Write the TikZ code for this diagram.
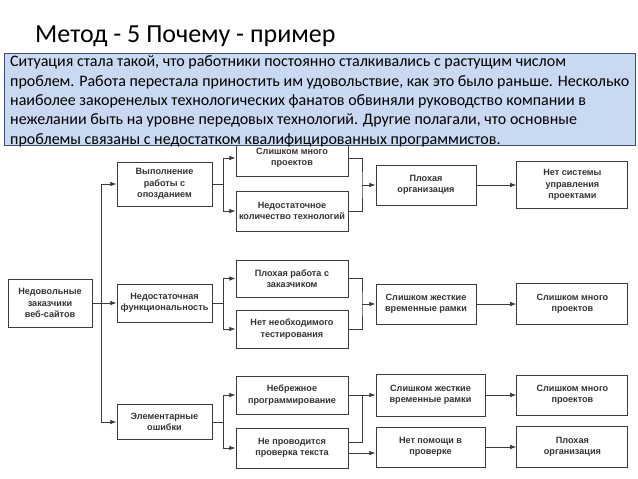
\documentclass[tikz,border=0pt]{standalone}
\usepackage{fontspec}
\setmainfont{Carlito}
\newfontfamily\boxfont{Liberation Sans}
\usetikzlibrary{arrows.meta,positioning}
\definecolor{notefill}{RGB}{200,217,241}
\definecolor{notedraw}{RGB}{60,80,120}
\definecolor{linegray}{RGB}{60,60,60}
\tikzset{
  causebox/.style={draw=linegray, line width=0.9pt, fill=white, align=center,
                   font=\boxfont\bfseries\fontsize{9.1}{11.3}\selectfont,
                   text=black!80, inner sep=2pt},
  lvlone/.style={causebox, minimum width=95pt},
  lvltwo/.style={causebox, minimum width=112pt},
  lvlthree/.style={causebox, minimum width=100pt},
  lvlfour/.style={causebox, minimum width=111pt},
  flowarrow/.style={-{Latex[length=2.2mm,width=1.6mm]}, line width=0.8pt, draw=linegray},
  joinline/.style={line width=0.8pt, draw=linegray}
}

\begin{document}
\begin{tikzpicture}[x=1pt, y=-1pt]
  \useasboundingbox (0,0) rectangle (638,479);
  \node[anchor=base west, inner sep=0, font=\fontsize{26}{30}\selectfont] (title)
    at (35,42) {Метод - 5 Почему - пример};

  % root and first level
  \node[causebox, minimum width=84pt, minimum height=48pt] (root) at (50,303)
    {Недовольные\\заказчики\\веб-сайтов};
  \node[lvlone, minimum height=44pt] (late) at (164.5,184)
    {Выполнение\\работы с\\опозданием};
  \node[lvlone, minimum height=38pt] (func) at (164.5,303)
    {Недостаточная\\функциональность};
  \node[lvlone, minimum height=35pt] (errs) at (164.5,422)
    {Элементарные\\ошибки};

  % second level
  \node[lvltwo, minimum height=36pt] (many1) at (292,158)
    {Слишком много\\проектов};
  \node[lvltwo, minimum height=40pt] (tech) at (292,211)
    {Недостаточное\\количество технологий};
  \node[lvltwo, minimum height=37pt] (client) at (292,278.5)
    {Плохая работа с\\заказчиком};
  \node[lvltwo, minimum height=38pt] (test) at (292,329)
    {Нет необходимого\\тестирования};
  \node[lvltwo, minimum height=38pt] (careless) at (292,395)
    {Небрежное\\программирование};
  \node[lvltwo, minimum height=40pt] (check) at (292,448)
    {Не проводится\\проверка текста};

  % third level
  \node[lvlthree, minimum height=40pt] (org1) at (426,185)
    {Плохая\\организация};
  \node[lvlthree, minimum height=40pt] (tight1) at (426,304)
    {Слишком жесткие\\временные рамки};
  \node[lvlthree, minimum width=109pt, minimum height=42pt] (tight2) at (430.5,395)
    {Слишком жесткие\\временные рамки};
  \node[lvlthree, minimum width=109pt, minimum height=40pt] (help) at (430.5,447)
    {Нет помощи в\\проверке};

  % fourth level
  \node[lvlfour, minimum height=47pt, right=40pt of org1] (nosys)
    {Нет системы\\управления\\проектами};
  \node[lvlfour, minimum height=41pt, right=40pt of tight1] (many2)
    {Слишком много\\проектов};
  \node[lvlfour, minimum height=40pt, right=31pt of tight2] (many3)
    {Слишком много\\проектов};
  \node[lvlfour, minimum height=41pt, right=31pt of help] (org2)
    {Плохая\\организация};

  % connectors
  \coordinate (trunk) at (101,303);
  \draw[flowarrow] (root.east) -- (func.west);
  \draw[flowarrow] (trunk) |- (late.west);
  \draw[flowarrow] (trunk) |- (errs.west);

  \draw[joinline] (late.east) -- ++(11,0) coordinate (j1);
  \draw[flowarrow] (j1) |- (many1.west);
  \draw[flowarrow] (j1) |- (tech.west);
  \draw[joinline] (func.east) -- ++(11,0) coordinate (j2);
  \draw[flowarrow] (j2) |- (client.west);
  \draw[flowarrow] (j2) |- (test.west);
  \draw[joinline] (errs.east) -- ++(11,0) coordinate (j3);
  \draw[flowarrow] (j3) |- (careless.west);
  \draw[flowarrow] (j3) |- (check.west);

  \coordinate (k1) at (362,185);
  \draw[joinline] (many1.east) -| (k1) |- (tech.east);
  \draw[flowarrow] (k1) -- (org1.west);
  \coordinate (k2) at (362,304);
  \draw[joinline] (client.east) -| (k2) |- (test.east);
  \draw[flowarrow] (k2) -- (tight1.west);
  \draw[flowarrow] (careless.east) -- (tight2.west);
  \draw[joinline] ([yshift=6pt]check.east) -| (careless.east -| k2);
  \draw[flowarrow] ([yshift=-5pt]check.east) -- ([yshift=-5pt]check.east -| help.west);

  \draw[flowarrow] (org1.east) -- (nosys.west);
  \draw[flowarrow] (tight1.east) -- (many2.west);
  \draw[flowarrow] (tight2.east) -- (many3.west);
  \draw[flowarrow] (help.east) -- (org2.west);

  % situation note
  \node[draw=notedraw, fill=notefill, line width=0.8pt, minimum width=631pt,
        minimum height=92pt, inner sep=0, anchor=north west] (note) at (4,53) {};
  \node[anchor=base west, inner sep=0, align=left,
        font=\fontsize{16}{19.3}\selectfont] (notetext) at (10,144)
    {Ситуация стала такой, что работники постоянно сталкивались с растущим числом\\
     проблем. Работа перестала приностить им удовольствие, как это было раньше. Несколько\\
     наиболее закоренелых технологических фанатов обвиняли руководство компании в\\
     нежелании быть на уровне передовых технологий. Другие полагали, что основные\\
     проблемы связаны с недостатком квалифицированных программистов.};
\end{tikzpicture}
\end{document}
